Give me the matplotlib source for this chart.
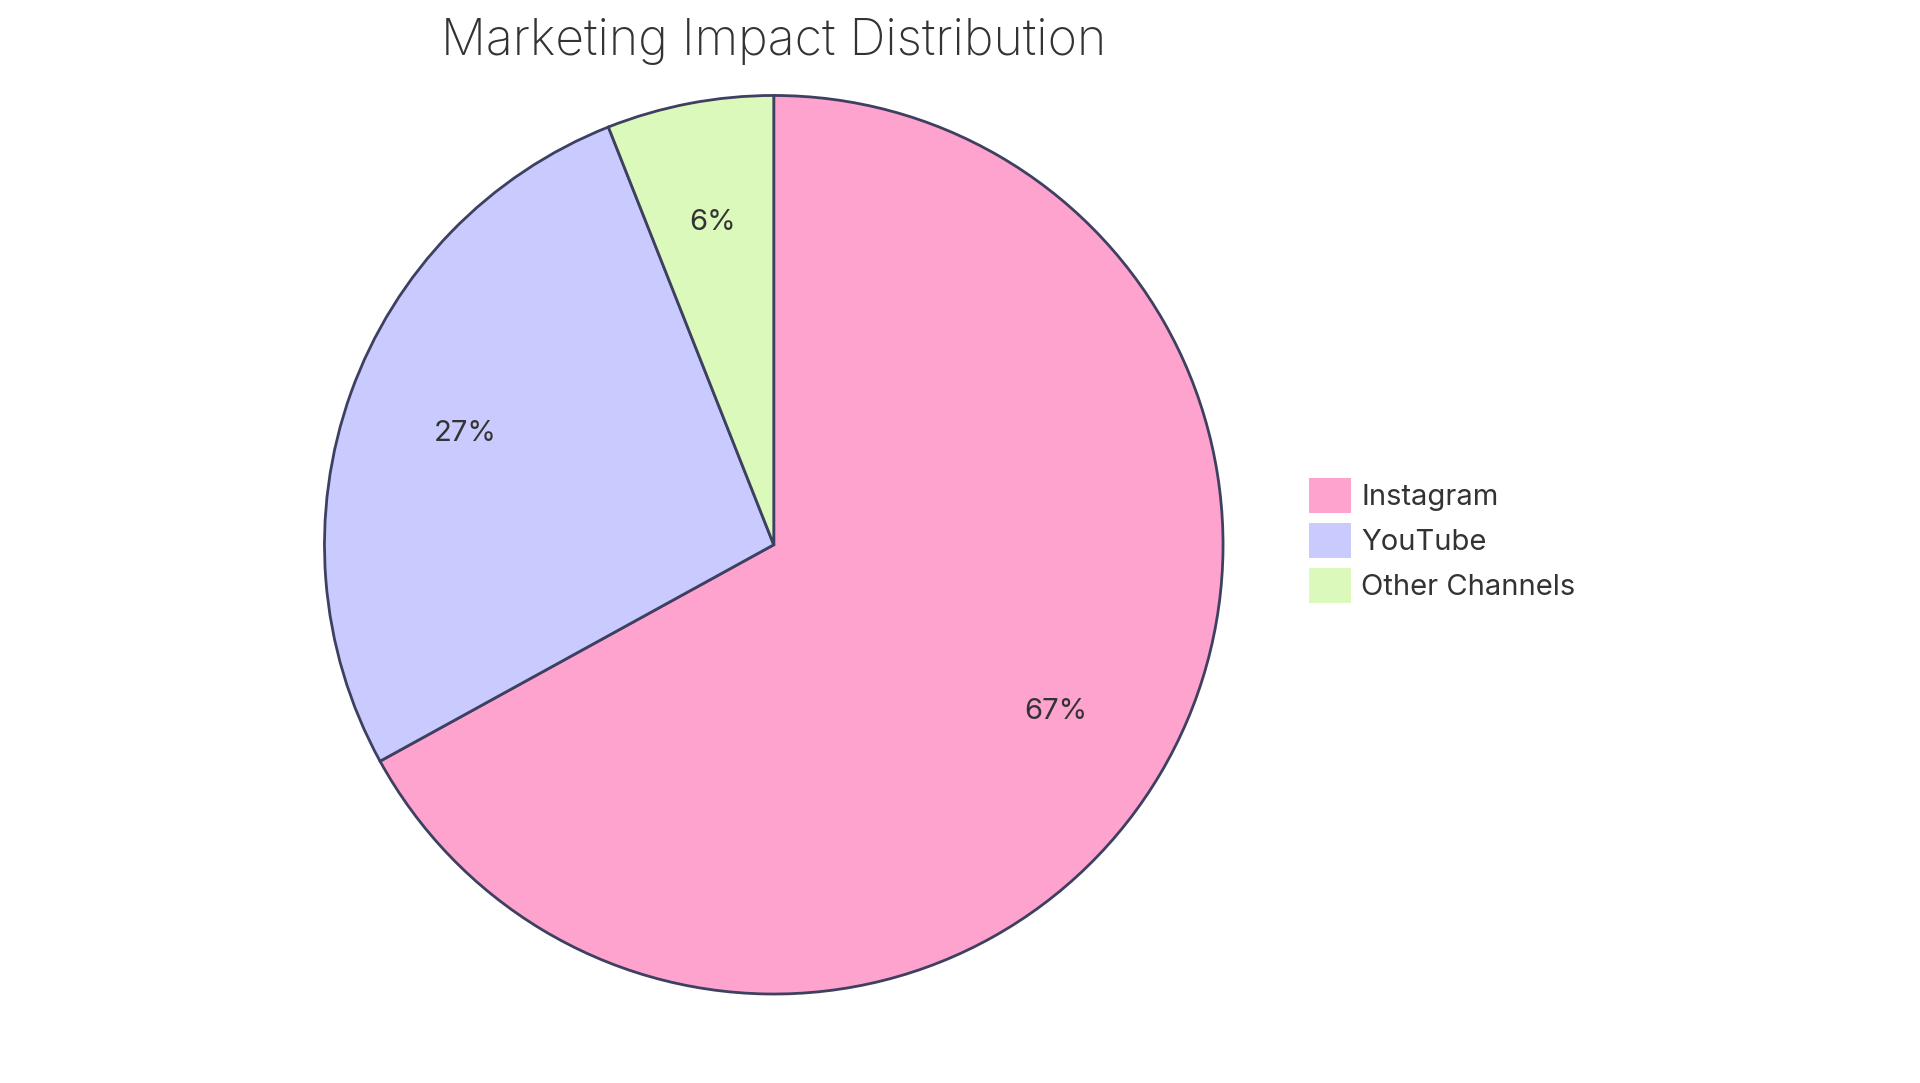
import matplotlib.pyplot as plt
from matplotlib.patches import Patch

labels = ["Instagram", "YouTube", "Other Channels"]
values = [67, 27, 6]
colors = ["#FEA2CE", "#C9CAFD", "#DCF9BC"]

plt.rcParams['font.family'] = ['Inter', 'DejaVu Sans']

fig = plt.figure(figsize=(19.2, 10.83), dpi=100)
ax = fig.add_axes([0.403 - 0.234, 0.497 - 0.415, 0.468, 0.83])
wedges, texts, autotexts = ax.pie(
    values, colors=colors, startangle=90, counterclock=False,
    autopct='%1.0f%%', pctdistance=0.73,
    wedgeprops=dict(edgecolor="#3d4060", linewidth=2),
    textprops=dict(fontsize=21, color="#333333"))
ax.set_xlim(-1, 1)
ax.set_ylim(-1, 1)
ax.set_aspect("equal")

fig.text(0.403, 0.962, "Marketing Impact Distribution", ha="center", va="center",
         fontsize=36, color="#333333", fontweight="light")

handles = [Patch(facecolor=c, edgecolor="none") for c in colors]
fig.legend(handles, labels, loc="center left", bbox_to_anchor=(0.668, 0.501),
           frameon=False, fontsize=21, handlelength=1.45, handleheight=1.45,
           handletextpad=0.35, labelspacing=0.35, labelcolor="#333333")

fig.savefig("out.png", dpi=100)
